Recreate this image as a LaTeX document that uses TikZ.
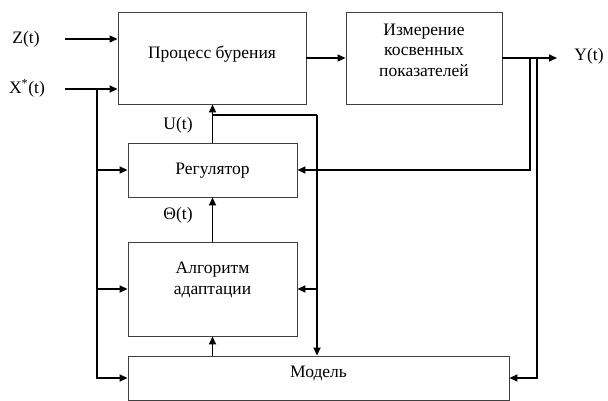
\documentclass[tikz,border=0pt]{standalone}
\usepackage{fontspec}
\setmainfont{Liberation Serif}
\newfontfamily\tnrfont{Liberation Serif}
\usetikzlibrary{arrows.meta}
\begin{document}
\begin{tikzpicture}[x=1pt,y=-1pt,
  box/.style={draw=black!75,line width=0.9pt,inner sep=0pt},
  txt/.style={font=\tnrfont\fontsize{17.5}{20.5}\selectfont,align=center,inner sep=0pt},
  thk/.style={line width=1.7pt},
  conn/.style={line width=1.7pt,-{Triangle[length=8pt,width=7pt]}},
  thinc/.style={line width=1.1pt,-{Triangle[length=8pt,width=7pt]}}]
\useasboundingbox (0,0) rectangle (608,401);
% blocks
\node[box,minimum width=188pt,minimum height=92pt] (proc) at (212,58) {};
\node[txt] (proct) at (212,54) {Процесс бурения};
\node[box,minimum width=156pt,minimum height=92pt] (meas) at (424,58) {};
\node[txt] (meast) at (424,50) {Измерение\\косвенных\\показателей};
\node[box,minimum width=169pt,minimum height=54pt] (reg) at (212.5,170) {};
\node[txt] (regt) at (212.5,171) {Регулятор};
\node[box,minimum width=169pt,minimum height=94pt] (alg) at (212.5,289) {};
\node[txt] (algt) at (212.5,280) {Алгоритм\\адаптации};
\node[box,minimum width=381pt,minimum height=44pt] (mod) at (318.5,378) {};
\node[txt] (modt) at (318.5,373) {Модель};
% labels
\node[txt] (zl) at (26,39) {Z(t)};
\node[txt] (xl) at (27,88) {X\textsuperscript{*}(t)};
\node[txt] (yl) at (589,56) {Y(t)};
\node[txt] (ul) at (178,125) {U(t)};
\node[txt] (thl) at (178,215) {Θ(t)};
% coordinates
\coordinate (zin) at (65,39);
\coordinate (xin) at (65,89);
\coordinate (xb) at (97,89);
\coordinate (yout) at (557,58);
\coordinate (yb1) at (530,58);
\coordinate (yb2) at (537,58);
\coordinate (ub) at (212.5,115);
\coordinate (ur) at (317,115);
% connectors
\draw[thinc] (zin) -- (zin -| proc.west);
\draw[conn] (xin) -- (xin -| proc.west);
\draw[conn] (xb) |- (mod.west);
\draw[conn] (xb |- reg.west) -- (reg.west);
\draw[conn] (xb |- alg.west) -- (alg.west);
\draw[thinc] (proc.east) -- (meas.west);
\draw[conn] (meas.east) -- (yout);
\draw[conn] (yb1) |- (reg.east);
\draw[conn] (yb2) |- (mod.east);
\draw[conn] (reg.north) -- (reg.north |- proc.south);
\draw[thk] (ub) -- (ur);
\draw[conn] (ur) -- (ur |- mod.north);
\draw[conn] (ur |- alg.east) -- (alg.east);
\draw[conn] (alg.north) -- (reg.south);
\draw[conn] (mod.north -| alg.south) -- (alg.south);
\end{tikzpicture}
\end{document}
